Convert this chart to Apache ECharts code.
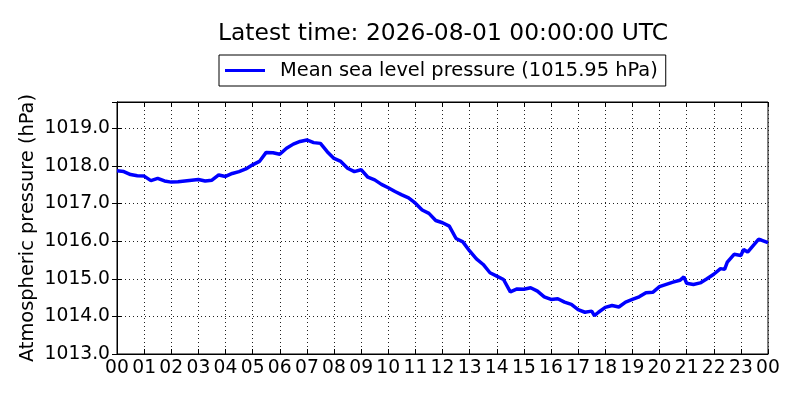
<!DOCTYPE html>
<html>
<head>
<meta charset="utf-8">
<script src="https://cdn.jsdelivr.net/npm/echarts@6/dist/echarts.min.js"></script>
<style>
    html, body { margin: 0; padding: 0; background: #fff; }
    #js-line { width: 800px; height: 400px; }
</style>
</head>
<body>
<div id="js-line"></div>
<script>
// hours since 00 UTC
const hours = [
    0, 0.25, 0.5, 0.75, 1, 1.25, 1.5, 1.75, 2, 2.25, 2.5, 2.75,
    3, 3.25, 3.5, 3.75, 4, 4.25, 4.5, 4.75, 5, 5.25, 5.5, 5.75,
    6, 6.25, 6.5, 6.75, 7, 7.25, 7.5, 7.75, 8, 8.25, 8.5, 8.75,
    9, 9.25, 9.5, 9.75, 10, 10.25, 10.5, 10.75, 11, 11.25, 11.5, 11.75,
    12, 12.25, 12.5, 12.75, 13, 13.25, 13.5, 13.75, 14, 14.25, 14.5, 14.75,
    15, 15.25, 15.5, 15.75, 16, 16.25, 16.5, 16.75, 17, 17.25, 17.5, 17.6, 17.75,
    18, 18.25, 18.5, 18.75, 19, 19.25, 19.5, 19.75, 20, 20.25, 20.5, 20.75, 20.9,
    21, 21.25, 21.5, 21.75, 22, 22.25, 22.4, 22.5, 22.75, 23, 23.1, 23.25, 23.5, 23.65, 23.75, 24
];
// mean sea level pressure (hPa)
const pressure = [
    1017.87, 1017.85, 1017.77, 1017.74, 1017.73, 1017.61, 1017.67, 1017.60, 1017.57, 1017.58, 1017.60, 1017.62,
    1017.64, 1017.60, 1017.62, 1017.76, 1017.72, 1017.80, 1017.85, 1017.92, 1018.03, 1018.12, 1018.36, 1018.35,
    1018.31, 1018.47, 1018.58, 1018.65, 1018.69, 1018.62, 1018.60, 1018.38, 1018.20, 1018.12, 1017.94, 1017.85,
    1017.90, 1017.70, 1017.63, 1017.51, 1017.42, 1017.32, 1017.23, 1017.15, 1017.01, 1016.83, 1016.74, 1016.55,
    1016.49, 1016.40, 1016.07, 1015.98, 1015.74, 1015.53, 1015.38, 1015.16, 1015.07, 1014.98, 1014.65, 1014.73,
    1014.72, 1014.76, 1014.67, 1014.52, 1014.45, 1014.47, 1014.38, 1014.32, 1014.18, 1014.11, 1014.14, 1014.02, 1014.11,
    1014.24, 1014.29, 1014.25, 1014.38, 1014.45, 1014.52, 1014.63, 1014.64, 1014.79, 1014.85, 1014.91, 1014.96, 1015.05,
    1014.88, 1014.85, 1014.89, 1015.00, 1015.12, 1015.27, 1015.25, 1015.44, 1015.65, 1015.62, 1015.78, 1015.71, 1015.92, 1016.05, 1016.03, 1015.96
];
const titleText = 'Latest time: 2026-08-01 00:00:00 UTC';
const seriesName = 'Mean sea level pressure (1015.95 hPa)';
const yMin = 1013.0;
const yMax = 1019.7;

const FONT = 'DejaVu Sans';
const chart = echarts.init(document.getElementById('js-line'));

const hourLabel = function (v) {
    return String(v % 24).padStart(2, '0');
};
const hideAll = {show: false};
const tickIn = {show: true, inside: true, length: 5, lineStyle: {color: '#000'}};
const gridDots = {show: true, lineStyle: {color: '#222', width: 1, type: [1, 3]}};

const option = {
    animation: false,
    backgroundColor: '#fff',
    title: {
        text: titleText,
        left: 213,
        top: 17,
        textStyle: {fontFamily: FONT, fontSize: 23.4, fontWeight: 'normal', color: '#000'}
    },
    legend: {
        data: [seriesName],
        left: 219,
        top: 55,
        padding: [6, 8, 6, 6],
        borderColor: '#000',
        borderWidth: 1,
        borderRadius: 0,
        icon: 'rect',
        itemWidth: 40,
        itemHeight: 3,
        itemGap: 0,
        textStyle: {fontFamily: FONT, fontSize: 19.4, color: '#000', padding: [0, 0, 0, 10]}
    },
    grid: {
        left: 117,
        right: 32,
        top: 102,
        bottom: 46,
        show: true,
        borderColor: '#000',
        borderWidth: 1
    },
    xAxis: [{
        type: 'value',
        min: 0,
        max: 24,
        interval: 1,
        axisLine: {show: true, lineStyle: {color: '#000'}},
        axisTick: tickIn,
        splitLine: gridDots,
        axisLabel: {
            formatter: hourLabel,
            fontFamily: FONT,
            fontSize: 18.7,
            color: '#000',
            margin: 5
        }
    }, {
        type: 'value',
        position: 'top',
        min: 0,
        max: 24,
        interval: 1,
        axisLine: {show: true, lineStyle: {color: '#000'}},
        axisTick: tickIn,
        axisLabel: hideAll,
        splitLine: hideAll
    }],
    yAxis: [{
        type: 'value',
        min: yMin,
        max: yMax,
        interval: 1,
        name: 'Atmospheric pressure (hPa)',
        nameLocation: 'middle',
        nameGap: 80,
        nameMoveOverlap: false,
        nameTextStyle: {fontFamily: FONT, fontSize: 19.4, color: '#000'},
        axisLine: {show: true, lineStyle: {color: '#000'}},
        axisTick: tickIn,
        splitLine: gridDots,
        axisLabel: {
            formatter: function (v) {
                return Math.abs(v - Math.round(v)) < 1e-6 ? v.toFixed(1) : '';
            },
            showMaxLabel: false,
            fontFamily: FONT,
            fontSize: 18.7,
            color: '#000',
            margin: 7
        }
    }, {
        type: 'value',
        position: 'right',
        min: yMin,
        max: yMax,
        interval: 1,
        axisLine: {show: true, lineStyle: {color: '#000'}},
        axisTick: tickIn,
        axisLabel: hideAll,
        splitLine: hideAll
    }],
    series: [{
        name: seriesName,
        type: 'line',
        data: hours.map(function (h, i) { return [h, pressure[i]]; }),
        showSymbol: false,
        symbol: 'none',
        color: '#0000ff',
        lineStyle: {color: '#0000ff', width: 3.5}
    }]
};
chart.setOption(option);
</script>
</body>
</html>
